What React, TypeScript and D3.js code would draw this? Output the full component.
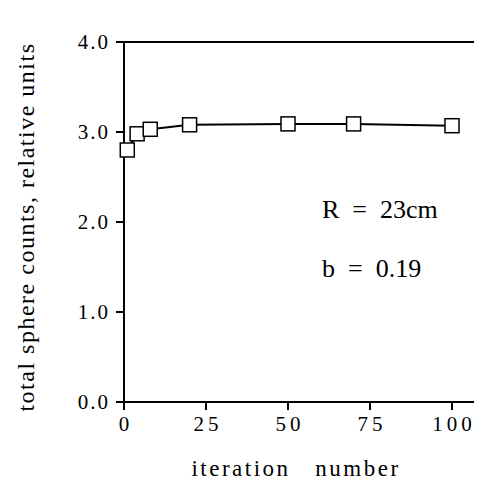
import React from "react";
import * as d3 from "d3";

const iterations = [1, 4, 8, 20, 50, 70, 100];
const counts = [2.8, 2.98, 3.03, 3.08, 3.09, 3.09, 3.07];
const xTicks = [0, 25, 50, 75, 100];
const yTicks = [0, 1, 2, 3, 4];
const annotations = ["R = 23cm", "b = 0.19"];
const xTitle = "iteration   number";
const yTitle = "total sphere counts, relative units";

const W = 482;
const H = 489;
const left = 124;
const top = 42;
const bottom = 402;
const right = 482;

const nb = (s: string) => s.replace(/ /g, "\u00a0");

function T(props: { x: number; y: number; rot?: number; size: number; ls: number; anchor?: string; children: string }) {
  const tr = props.rot ? `translate(${props.x},${props.y}) rotate(${props.rot})` : `translate(${props.x},${props.y})`;
  return (
    <text transform={tr} textAnchor={props.anchor || "start"} fontSize={props.size} letterSpacing={props.ls}>
      {nb(props.children)}
    </text>
  );
}

export default function App() {
  const x = d3.scaleLinear().domain([0, 100]).range([124, 452]);
  const y = d3.scaleLinear().domain([0, 4]).range([bottom, top]);
  const pts = iterations.map((d, i) => [x(d), y(counts[i])] as [number, number]);
  const line = d3.line()(pts) || "";
  return (
    <svg
      width={W}
      height={H}
      fontFamily="Times, serif"
      style={{ display: "block", margin: "-8px 0 0 -8px", fontFamily: "Times, serif" }}
    >
      <rect width={W} height={H} fill="#fff" />
      <line x1={left} x2={right} y1={top} y2={top} stroke="#000" strokeWidth={2} />
      <line x1={left} x2={right} y1={bottom} y2={bottom} stroke="#000" strokeWidth={2} />
      <line x1={left} x2={left} y1={top} y2={bottom} stroke="#000" strokeWidth={2} />
      {yTicks.map((t) => (
        <g key={"y" + t}>
          <line x1={left - 8} x2={left} y1={y(t)} y2={y(t)} stroke="#000" strokeWidth={2} />
          <T x={left - 14} y={y(t) + 7} size={21} ls={2} anchor="end">
            {t.toFixed(1)}
          </T>
        </g>
      ))}
      {xTicks.map((t) => (
        <g key={"x" + t}>
          <line x1={x(t)} x2={x(t)} y1={bottom} y2={bottom + 8} stroke="#000" strokeWidth={2} />
          <T x={x(t) + 2} y={bottom + 29} size={21} ls={4} anchor="middle">
            {String(t)}
          </T>
        </g>
      ))}
      <path d={line} fill="none" stroke="#000" strokeWidth={2} />
      {pts.map(([px, py], i) => (
        <rect key={i} x={px - 7} y={py - 7} width={14} height={14} fill="#fff" stroke="#000" strokeWidth={1.5} />
      ))}
      <T x={296} y={476} size={23} ls={2.5} anchor="middle">
        {xTitle}
      </T>
      <T x={34} y={227} rot={-90} size={24} ls={1.5} anchor="middle">
        {yTitle}
      </T>
      {annotations.map((a, i) => (
        <T key={a} x={322} y={218 + i * 59} size={26} ls={0}>
          {a.replace(/ = /, "  =  ")}
        </T>
      ))}
    </svg>
  );
}
